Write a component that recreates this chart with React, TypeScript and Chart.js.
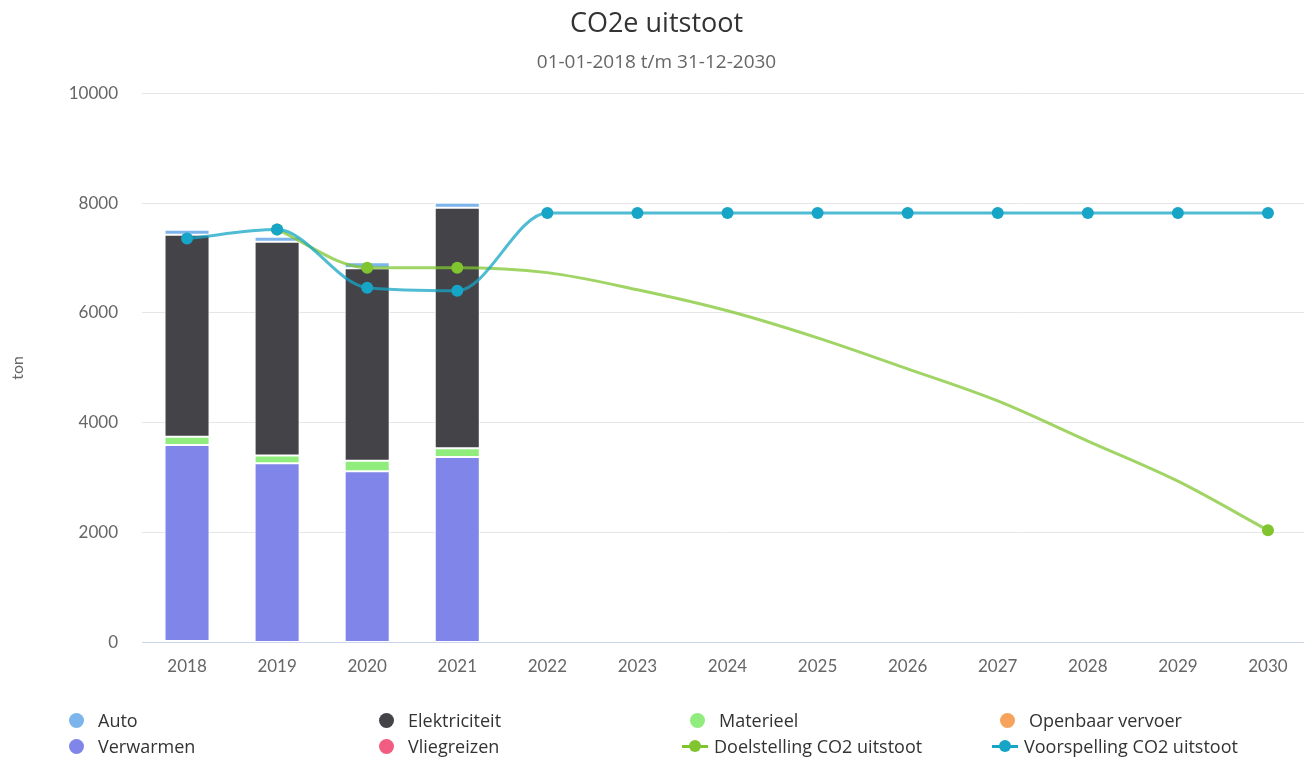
import React, { useEffect, useRef } from 'react';
import { Chart, registerables } from 'chart.js';

Chart.register(...registerables);

const years = ['2018', '2019', '2020', '2021', '2022', '2023', '2024', '2025', '2026', '2027', '2028', '2029', '2030'];

const vliegreizen = [30, 0, 0, 0, null, null, null, null, null, null, null, null, null];
const verwarmen = [3565, 3266, 3120, 3376, null, null, null, null, null, null, null, null, null];
const materieel = [150, 140, 190, 160, null, null, null, null, null, null, null, null, null];
const elektriciteit = [3680, 3892, 3504, 4380, null, null, null, null, null, null, null, null, null];
const openbaarVervoer = [0, 0, 0, 0, null, null, null, null, null, null, null, null, null];
const auto = [90, 90, 110, 90, null, null, null, null, null, null, null, null, null];

const doelstelling = [null, 7518, 6825, 6825, 6734, 6423, 6040, 5547, 4982, 4398, 3668, 2938, 2044];
const doelMarkers = [0, 6, 6, 6, 0, 0, 0, 0, 0, 0, 0, 0, 6];
const voorspelling = [7354, 7518, 6460, 6405, 7820, 7820, 7820, 7820, 7820, 7820, 7820, 7820, 7820];

const yTicks = [0, 2000, 4000, 6000, 8000, 10000];

const COLORS = {
  auto: '#7cb5ec',
  elektriciteit: '#434348',
  materieel: '#90ed7d',
  openbaar: '#f7a35c',
  verwarmen: '#8085e9',
  vlieg: '#f15c80',
  doel: '#80c530',
  doelLine: 'rgba(128,197,48,0.75)',
  voor: '#16a5c6',
  voorLine: 'rgba(22,165,198,0.75)',
};

type LegendItem = { label: string; color: string; kind: 'dot' | 'line' };
const legendItems: LegendItem[] = [
  { label: 'Auto', color: COLORS.auto, kind: 'dot' },
  { label: 'Elektriciteit', color: COLORS.elektriciteit, kind: 'dot' },
  { label: 'Materieel', color: COLORS.materieel, kind: 'dot' },
  { label: 'Openbaar vervoer', color: COLORS.openbaar, kind: 'dot' },
  { label: 'Verwarmen', color: COLORS.verwarmen, kind: 'dot' },
  { label: 'Vliegreizen', color: COLORS.vlieg, kind: 'dot' },
  { label: 'Doelstelling CO2 uitstoot', color: COLORS.doel, kind: 'line' },
  { label: 'Voorspelling CO2 uitstoot', color: COLORS.voor, kind: 'line' },
];

export default function App() {
  const ref = useRef<HTMLCanvasElement | null>(null);

  useEffect(() => {
    if (!ref.current) return;
    const bar = (label: string, data: (number | null)[], color: string) => ({
      type: 'bar' as const,
      label,
      data,
      backgroundColor: color,
      borderColor: '#ffffff',
      borderWidth: 1,
      borderSkipped: false,
      stack: 'bars',
      order: 2,
      barPercentage: 0.5,
      categoryPercentage: 1,
    });
    const chart = new Chart(ref.current, {
      type: 'bar',
      data: {
        labels: years,
        datasets: [
          bar('Vliegreizen', vliegreizen, COLORS.vlieg),
          bar('Verwarmen', verwarmen, COLORS.verwarmen),
          bar('Materieel', materieel, COLORS.materieel),
          bar('Elektriciteit', elektriciteit, COLORS.elektriciteit),
          bar('Openbaar vervoer', openbaarVervoer, COLORS.openbaar),
          bar('Auto', auto, COLORS.auto),
          {
            type: 'line' as const,
            label: 'Doelstelling CO2 uitstoot',
            data: doelstelling,
            borderColor: COLORS.doelLine,
            backgroundColor: COLORS.doel,
            borderWidth: 3,
            pointRadius: doelMarkers,
            pointBorderWidth: 0,
            cubicInterpolationMode: 'monotone',
            stack: 'doel',
            order: 1,
          } as any,
          {
            type: 'line' as const,
            label: 'Voorspelling CO2 uitstoot',
            data: voorspelling,
            borderColor: COLORS.voorLine,
            backgroundColor: COLORS.voor,
            borderWidth: 3,
            pointRadius: 6,
            pointBorderWidth: 0,
            cubicInterpolationMode: 'monotone',
            stack: 'voor',
            order: 0,
          } as any,
        ],
      },
      options: {
        animation: false,
        responsive: true,
        maintainAspectRatio: false,
        layout: { padding: { top: 0, left: 0, right: 21, bottom: 67 } },
        plugins: {
          legend: { display: false },
          tooltip: { enabled: false },
          title: {
            display: true,
            text: 'CO2e uitstoot',
            color: '#333333',
            font: { family: "'Open Sans'", size: 27, weight: 'normal' },
            padding: { top: 8, bottom: 8 },
          },
          subtitle: {
            display: true,
            text: '01-01-2018 t/m 31-12-2030',
            color: '#666666',
            font: { family: "'Open Sans'", size: 19, weight: 'normal' },
            padding: { top: 3, bottom: 19 },
          },
        },
        scales: {
          x: {
            stacked: true,
            grid: { display: false, drawTicks: false },
            border: { display: true, color: '#ccd6eb', width: 1 },
            ticks: {
              color: '#666666',
              font: { family: 'Lato', size: 17 },
              padding: 14,
              maxRotation: 0,
            },
          },
          y: {
            stacked: true,
            min: 0,
            max: 10000,
            afterFit: (scale: any) => {
              scale.width = 142;
            },
            afterBuildTicks: (scale: any) => {
              scale.ticks = yTicks.map((v) => ({ value: v }));
            },
            grid: { color: '#e6e6e6', lineWidth: 1, drawTicks: false },
            border: { display: false },
            ticks: {
              color: '#666666',
              font: { family: 'Lato', size: 17 },
              padding: 24,
              callback: (v: any) => String(v),
            },
            title: {
              display: true,
              text: 'ton',
              color: '#666666',
              font: { family: 'Lato', size: 16 },
              padding: { top: 8, bottom: 0 },
            },
          },
        },
      },
    });
    return () => chart.destroy();
  }, []);

  const colLeft = [66, 376, 687, 997];
  return (
    <div style={{ position: 'fixed', left: 0, top: 0, width: 1334, height: 758, background: '#fff' }}>
      <canvas ref={ref} />
      {legendItems.map((it, i) => {
        const col = i % 4;
        const row = Math.floor(i / 4);
        const top = 708 + row * 26;
        return (
          <div
            key={it.label}
            style={{
              position: 'absolute',
              left: colLeft[col],
              top,
              height: 24,
              display: 'flex',
              alignItems: 'center',
              fontFamily: "'Open Sans'",
              fontSize: 18,
              color: '#333333',
              whiteSpace: 'nowrap',
            }}
          >
            {it.kind === 'dot' ? (
              <span
                style={{
                  display: 'inline-block',
                  width: 15,
                  height: 15,
                  borderRadius: '50%',
                  background: it.color,
                  marginLeft: 3,
                  marginRight: 14,
                }}
              />
            ) : (
              <span style={{ position: 'relative', display: 'inline-block', width: 26, height: 12, marginRight: 6, marginLeft: -5 }}>
                <span style={{ position: 'absolute', left: 0, top: 4.5, width: 26, height: 3, background: it.color }} />
                <span style={{ position: 'absolute', left: 7, top: 0, width: 12, height: 12, borderRadius: '50%', background: it.color }} />
              </span>
            )}
            <span>{it.label}</span>
          </div>
        );
      })}
    </div>
  );
}
